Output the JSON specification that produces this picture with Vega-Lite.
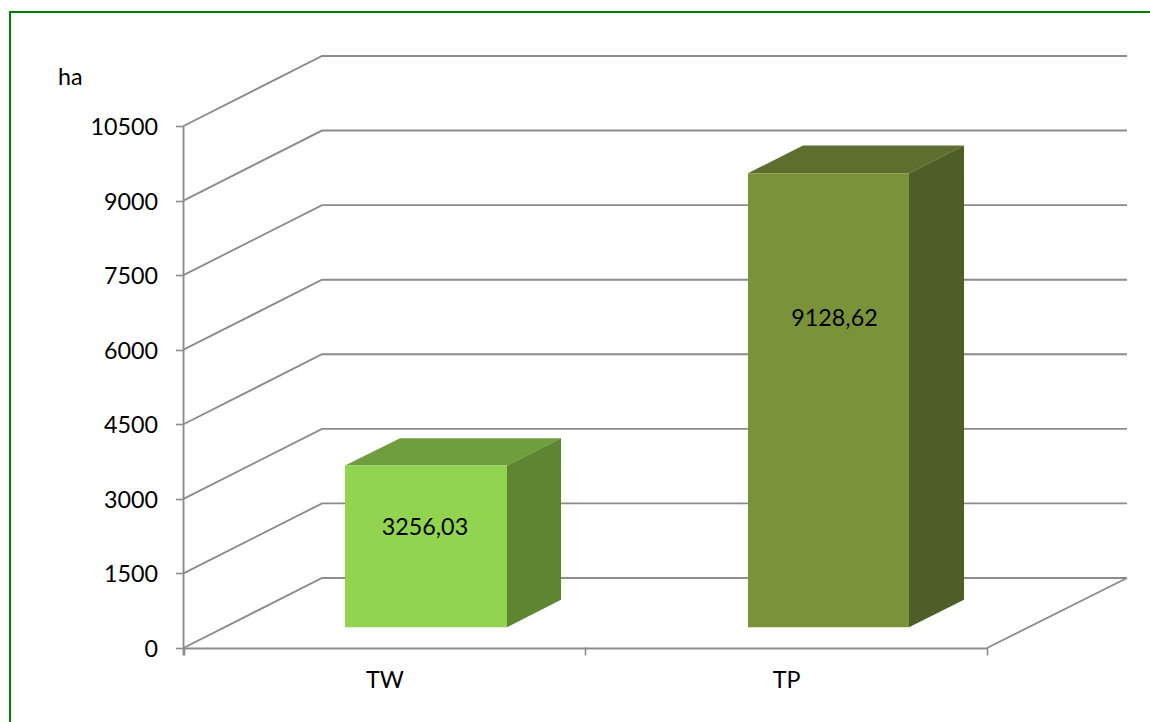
{"$schema":"https://vega.github.io/schema/vega-lite/v6.json","autosize":"none","padding":{"left":10,"top":12,"right":0,"bottom":0},"width":1141,"height":720,"background":"white","view":{"stroke":"#008000","strokeWidth":2,"fill":"white"},"config":{"font":"Lato"},"encoding":{},"layer":[{"data":{"values":[{"g":"w0","x":0,"y":0},{"g":"w0","x":0.3447,"y":1408},{"g":"w0","x":2.3485,"y":1408},{"g":"floor","x":2,"y":0},{"g":"floor","x":2.3485,"y":1408},{"g":"w1500","x":0,"y":1500},{"g":"w1500","x":0.3447,"y":2908},{"g":"w1500","x":2.3485,"y":2908},{"g":"w3000","x":0,"y":3000},{"g":"w3000","x":0.3447,"y":4408},{"g":"w3000","x":2.3485,"y":4408},{"g":"w4500","x":0,"y":4500},{"g":"w4500","x":0.3447,"y":5908},{"g":"w4500","x":2.3485,"y":5908},{"g":"w6000","x":0,"y":6000},{"g":"w6000","x":0.3447,"y":7408},{"g":"w6000","x":2.3485,"y":7408},{"g":"w7500","x":0,"y":7500},{"g":"w7500","x":0.3447,"y":8908},{"g":"w7500","x":2.3485,"y":8908},{"g":"w9000","x":0,"y":9000},{"g":"w9000","x":0.3447,"y":10408},{"g":"w9000","x":2.3485,"y":10408},{"g":"w10500","x":0,"y":10500},{"g":"w10500","x":0.3447,"y":11908},{"g":"w10500","x":2.3485,"y":11908},{"g":"yaxis","x":0,"y":-150},{"g":"yaxis","x":0,"y":10500},{"g":"xaxis","x":0,"y":-10},{"g":"xaxis","x":2,"y":-10}]},"mark":{"type":"line","stroke":"#8c8c8c","strokeWidth":1.9,"interpolate":"linear"},"encoding":{"x":{"field":"x","type":"quantitative","scale":{"domain":[-0.4319,2.4082],"nice":false,"zero":false},"axis":{"values":[0,0.5,1,1.5,2],"offset":-85,"domain":false,"grid":false,"title":null,"tickColor":"#8c8c8c","tickWidth":1.6,"tickSize":8,"tickOpacity":{"condition":{"test":"datum.value==0.5||datum.value==1.5","value":0},"value":1},"labelExpr":"datum.value==0.5?'TW':datum.value==1.5?'TP':''","labelFont":"Lato","labelFontSize":23.3,"labelColor":"#000000","labelPadding":14,"labelOverlap":false,"labelFlush":false,"labelBound":false}},"y":{"field":"y","type":"quantitative","scale":{"domain":[-1690,12793],"nice":false,"zero":false},"axis":{"values":[0,1500,3000,4500,6000,7500,9000,10500],"offset":-173.5,"domain":false,"grid":false,"title":null,"format":"d","tickColor":"#8c8c8c","tickWidth":1.6,"tickSize":8,"labelFont":"Lato","labelFontSize":23.3,"labelColor":"#000000","labelPadding":18,"labelOffset":1.5,"labelOverlap":false,"labelBound":false}},"detail":{"field":"g"}}},{"data":{"values":[{"face":"TW top","x":0.402,"y":3671,"y2":3671},{"face":"TW top","x":0.5389,"y":3671,"y2":4220},{"face":"TW top","x":0.8052,"y":3671,"y2":4220},{"face":"TW top","x":0.9397,"y":4220,"y2":4220},{"face":"TW side","x":0.8052,"y":418,"y2":3671},{"face":"TW side","x":0.9397,"y":970,"y2":4220},{"face":"TP top","x":1.4051,"y":9551,"y2":9551},{"face":"TP top","x":1.542,"y":9551,"y2":10108},{"face":"TP top","x":1.8058,"y":9551,"y2":10108},{"face":"TP top","x":1.9428,"y":10108,"y2":10108},{"face":"TP side","x":1.8058,"y":418,"y2":9551},{"face":"TP side","x":1.9428,"y":970,"y2":10108}]},"mark":{"type":"area","interpolate":"linear","opacity":1},"encoding":{"x":{"field":"x","type":"quantitative"},"y":{"field":"y","type":"quantitative"},"y2":{"field":"y2"},"color":{"field":"face","type":"nominal","scale":{"domain":["TW top","TW side","TP top","TP side"],"range":["#6f9e3e","#5e8632","#5c6f2e","#4d5f26"]},"legend":null}}},{"data":{"values":[{"category":"TW","x":0.402,"x2":0.8052,"base":418,"top":3671},{"category":"TP","x":1.4051,"x2":1.8058,"base":418,"top":9551}]},"mark":{"type":"rect"},"encoding":{"x":{"field":"x","type":"quantitative"},"x2":{"field":"x2"},"y":{"field":"base","type":"quantitative"},"y2":{"field":"top"},"fill":{"field":"category","type":"nominal","scale":{"domain":["TW","TP"],"range":["#92d350","#7a933b"]},"legend":null}}},{"data":{"values":[{"label":"3256,03","x":0.601,"y":2424},{"label":"9128,62","x":1.6204,"y":6628},{"label":"ha","x":-0.2819,"y":11475}]},"mark":{"type":"text","font":"Lato","fontSize":23.3,"color":"#000000","align":"center","baseline":"middle","dy":0.5},"encoding":{"x":{"field":"x","type":"quantitative"},"y":{"field":"y","type":"quantitative"},"text":{"field":"label"}}}]}
